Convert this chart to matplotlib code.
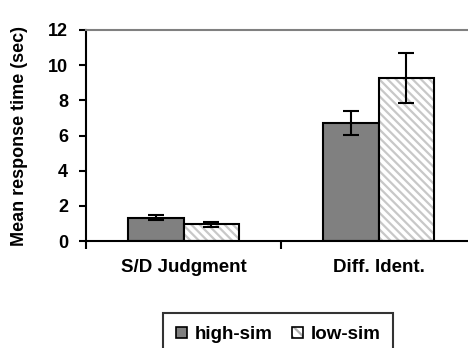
import matplotlib.pyplot as plt
import numpy as np
from matplotlib.patches import Patch
from matplotlib.legend_handler import HandlerTuple

plt.rcParams['font.family'] = ['Liberation Sans', 'DejaVu Sans']
plt.rcParams['font.weight'] = 'bold'
plt.rcParams['hatch.linewidth'] = 1.6

# data
categories = ['S/D Judgment', 'Diff. Ident.']
high_sim = [1.33, 6.73]
high_err = [0.15, 0.69]
low_sim = [0.95, 9.25]
low_err = [0.14, 1.42]

fig = plt.figure(figsize=(4.68, 3.48), dpi=100)
ax = fig.add_axes([86 / 468, 1 - 241 / 348, 390 / 468, 211 / 348])

x = np.arange(len(categories)) + 0.5
w = 0.287

ax.bar(x - w / 2, high_sim, w, color='#808080', edgecolor='black', linewidth=1.5, zorder=2)
ax.errorbar(x - w / 2, high_sim, yerr=high_err, fmt='none', ecolor='black',
            elinewidth=1.5, capsize=5.5, capthick=1.5, zorder=4)

# hatched fill, then black outline on top
ax.bar(x + w / 2, low_sim, w, color='white', edgecolor='#c8c8c8', hatch='\\\\\\\\',
       linewidth=0, zorder=2)
ax.bar(x + w / 2, low_sim, w, fill=False, edgecolor='black', linewidth=1.5, zorder=3)
ax.errorbar(x + w / 2, low_sim, yerr=low_err, fmt='none', ecolor='black',
            elinewidth=1.5, capsize=5.5, capthick=1.5, zorder=4)

ax.set_xlim(0, 2)
ax.set_ylim(0, 12)
ax.set_yticks(range(0, 13, 2))
ax.set_yticklabels([str(v) for v in range(0, 13, 2)], fontweight='bold', fontsize=13)
ax.set_xticks([0, 1, 2])
ax.set_xticks(x, minor=True)
ax.set_xticklabels([])
ax.set_xticklabels(categories, minor=True, fontweight='bold', fontsize=13.5)
ax.tick_params(axis='x', which='minor', length=0, pad=13)
ax.tick_params(axis='x', which='major', length=6, width=1.5, direction='out')
ax.tick_params(axis='y', length=5, width=1.5, pad=8)

ax.spines['right'].set_visible(False)
ax.spines['top'].set_color('#808080')
ax.spines['top'].set_linewidth(1.5)
ax.spines['left'].set_linewidth(1.5)
ax.spines['bottom'].set_linewidth(1.5)

ax.set_ylabel('Mean response time (sec)', fontsize=13, fontweight='bold', labelpad=14)

h1 = Patch(facecolor='#808080', edgecolor='black', linewidth=1.2)
h2a = Patch(facecolor='white', edgecolor='#b0b0b0', hatch='\\\\\\', linewidth=0)
h2b = Patch(fill=False, edgecolor='black', linewidth=1.2)
leg = fig.legend([h1, (h2a, h2b)], ['high-sim', 'low-sim'],
                 handler_map={tuple: HandlerTuple(ndivide=1, pad=0)},
                 loc='upper left', bbox_to_anchor=(163 / 468, 1 - 313 / 348),
                 ncol=2, frameon=True, fancybox=False, edgecolor='black',
                 prop={'weight': 'bold', 'size': 13.5},
                 handlelength=0.6, handleheight=0.6,
                 handletextpad=0.4, columnspacing=1.0, borderpad=0.7,
                 borderaxespad=0)
leg.get_frame().set_linewidth(1.5)

fig.savefig('out.png', dpi=100)
